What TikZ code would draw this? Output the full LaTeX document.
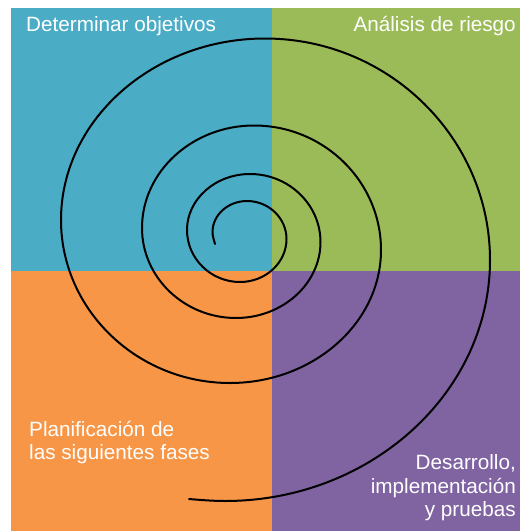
\documentclass[tikz,border=0pt]{standalone}
\usepackage{fontspec}
\setmainfont{Liberation Sans}
\definecolor{qblue}{HTML}{4BACC6}
\definecolor{qgreen}{HTML}{9BBB59}
\definecolor{qorange}{HTML}{F79646}
\definecolor{qpurple}{HTML}{8064A2}
\tikzset{
  lbl/.style={text=white,font=\fontsize{20.7}{23.4}\selectfont,inner sep=0pt},
  spiral/.style={draw=black,line width=2pt,line cap=round}
}
\begin{document}
\begin{tikzpicture}[x=1pt,y=-1pt]
\useasboundingbox (0,0) rectangle (520,531);
\fill[white] (0,0) rectangle (520,531);
\fill[qblue] (11,8) rectangle (271.5,271);
\fill[qgreen] (271.5,8) rectangle (520,271);
\fill[qorange] (11,271) rectangle (271.5,531);
\fill[qpurple] (271.5,271) rectangle (520,531);
\draw[spiral] (215,244) .. controls (214,240) and (212.5,236) .. (212.5,232)
 .. controls (212.5,215) and (228,201) .. (247,201)
 .. controls (268.7,201) and (286.5,218.1) .. (286.5,239)
 .. controls (286.5,262.7) and (265.6,282) .. (240,282)
 .. controls (210.9,282) and (187,258.6) .. (187,230)
 .. controls (187,199.2) and (215.4,174) .. (250,174)
 .. controls (288.8,174) and (320.5,204.6) .. (320.5,242)
 .. controls (320.5,283.8) and (282.5,318) .. (236,318)
 .. controls (184.3,318) and (142,277.5) .. (142,228)
 .. controls (142,171.6) and (192.4,125.5) .. (254,125.5)
 .. controls (323.9,125.5) and (381,181.5) .. (381,250)
 .. controls (381,323.2) and (313,383) .. (230,383)
 .. controls (137,383) and (61,309.7) .. (61,220)
 .. controls (61,120.2) and (152.8,38.5) .. (265,38.5)
 .. controls (388.8,38.5) and (490,138.2) .. (490,260)
 .. controls (490,392.6) and (370.8,501) .. (225,501)
 .. controls (213,501) and (201,500) .. (189,499);
\node[lbl,anchor=base west] (obj) at (26,31) {Determinar objetivos};
\node[lbl,anchor=base east] (risk) at (516,31) {Análisis de riesgo};
\node[lbl,anchor=north west,align=left] (plan) at (29,421) {Planificación de\\las siguientes fases};
\node[lbl,anchor=north east,align=right] (dev) at (516,454.5) {Desarrollo,\\implementación\\y pruebas};
\end{tikzpicture}
\end{document}
